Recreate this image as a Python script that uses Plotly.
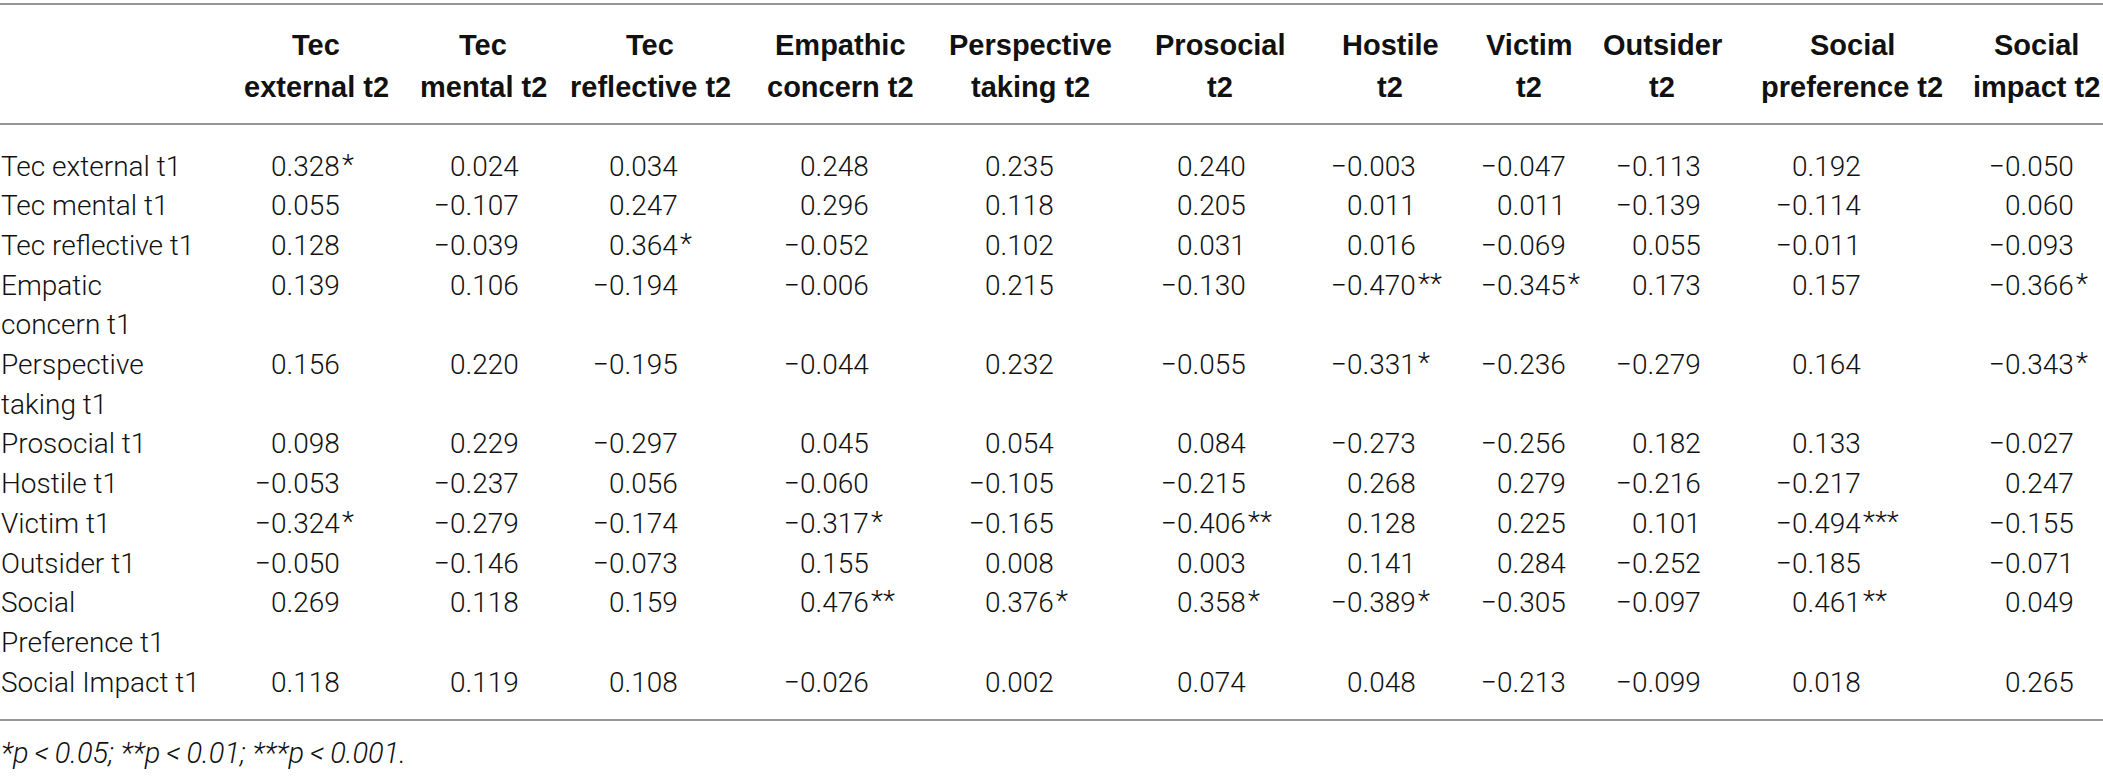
import plotly.graph_objects as go

# ---------------- data ----------------
col_labels = ["Tec\nexternal t2", "Tec\nmental t2", "Tec\nreflective t2", "Empathic\nconcern t2",
              "Perspective\ntaking t2", "Prosocial\nt2", "Hostile\nt2", "Victim\nt2", "Outsider\nt2",
              "Social\npreference t2", "Social\nimpact t2"]
row_labels = ["Tec external t1", "Tec mental t1", "Tec reflective t1", "Empatic\nconcern t1",
              "Perspective\ntaking t1", "Prosocial t1", "Hostile t1", "Victim t1", "Outsider t1",
              "Social\nPreference t1", "Social Impact t1"]
r_values = [
    [0.328, 0.024, 0.034, 0.248, 0.235, 0.240, -0.003, -0.047, -0.113, 0.192, -0.050],
    [0.055, -0.107, 0.247, 0.296, 0.118, 0.205, 0.011, 0.011, -0.139, -0.114, 0.060],
    [0.128, -0.039, 0.364, -0.052, 0.102, 0.031, 0.016, -0.069, 0.055, -0.011, -0.093],
    [0.139, 0.106, -0.194, -0.006, 0.215, -0.130, -0.470, -0.345, 0.173, 0.157, -0.366],
    [0.156, 0.220, -0.195, -0.044, 0.232, -0.055, -0.331, -0.236, -0.279, 0.164, -0.343],
    [0.098, 0.229, -0.297, 0.045, 0.054, 0.084, -0.273, -0.256, 0.182, 0.133, -0.027],
    [-0.053, -0.237, 0.056, -0.060, -0.105, -0.215, 0.268, 0.279, -0.216, -0.217, 0.247],
    [-0.324, -0.279, -0.174, -0.317, -0.165, -0.406, 0.128, 0.225, 0.101, -0.494, -0.155],
    [-0.050, -0.146, -0.073, 0.155, 0.008, 0.003, 0.141, 0.284, -0.252, -0.185, -0.071],
    [0.269, 0.118, 0.159, 0.476, 0.376, 0.358, -0.389, -0.305, -0.097, 0.461, 0.049],
    [0.118, 0.119, 0.108, -0.026, 0.002, 0.074, 0.048, -0.213, -0.099, 0.018, 0.265],
]
sig_stars = [
    [1, 0, 0, 0, 0, 0, 0, 0, 0, 0, 0],
    [0, 0, 0, 0, 0, 0, 0, 0, 0, 0, 0],
    [0, 0, 1, 0, 0, 0, 0, 0, 0, 0, 0],
    [0, 0, 0, 0, 0, 0, 2, 1, 0, 0, 1],
    [0, 0, 0, 0, 0, 0, 1, 0, 0, 0, 1],
    [0, 0, 0, 0, 0, 0, 0, 0, 0, 0, 0],
    [0, 0, 0, 0, 0, 0, 0, 0, 0, 0, 0],
    [1, 0, 0, 1, 0, 2, 0, 0, 0, 3, 0],
    [0, 0, 0, 0, 0, 0, 0, 0, 0, 0, 0],
    [0, 0, 0, 2, 1, 1, 1, 0, 0, 2, 0],
    [0, 0, 0, 0, 0, 0, 0, 0, 0, 0, 0],
]
footnote = "*p\u2009&lt;\u20090.05; **p\u2009&lt;\u20090.01; ***p\u2009&lt;\u20090.001."

# ---------------- layout constants ----------------
W, H = 2103, 778
col_num_right = [341, 520, 679, 870, 1055, 1247, 1417, 1567, 1702, 1862, 2075]
col_head_center = [316, 483, 650, 840, 1030, 1220, 1390, 1529, 1662, 1852, 2036]
label_x = 0
head_y = [45, 87]
first_row_y = 166
pitch = 39.7
top_rule, head_rule, bottom_rule = 4, 124, 720
foot_y = 753

FAM = "Roboto, 'Liberation Sans', sans-serif"
label_font = dict(family=FAM, size=28, color="#111111", weight=300)
num_font = dict(family=FAM, size=28, color="#111111", weight=300)
head_font = dict(family="'Liberation Sans Narrow', 'Liberation Sans', Arial, sans-serif", size=29,
                 color="#111111", weight="bold")


def fmt(v):
    s = f"{abs(v):.3f}"
    return ("\u2212" + s) if v < 0 else s


annotations = []

# headers
for j, lab in enumerate(col_labels):
    for k, line in enumerate(lab.split("\n")):
        annotations.append(dict(x=col_head_center[j], y=head_y[k], text=line, showarrow=False,
                                xanchor="center", yanchor="middle", font=head_font, borderpad=0))

# rows
slot = 0
for i, lab in enumerate(row_labels):
    lines = lab.split("\n")
    y0 = first_row_y + slot * pitch
    for k, line in enumerate(lines):
        annotations.append(dict(x=label_x, y=y0 + k * pitch, text=line, showarrow=False,
                                xanchor="left", yanchor="middle", font=label_font, borderpad=0))
    for j, v in enumerate(r_values[i]):
        annotations.append(dict(x=col_num_right[j], y=y0, text=fmt(v), showarrow=False,
                                xanchor="right", yanchor="middle", font=num_font, borderpad=0))
        if sig_stars[i][j]:
            annotations.append(dict(x=col_num_right[j], y=y0 - 2, text="*" * sig_stars[i][j],
                                    showarrow=False, xanchor="left", yanchor="middle",
                                    font=num_font, borderpad=0))
    slot += len(lines)

annotations.append(dict(x=label_x, y=foot_y, text="<i>" + footnote + "</i>", showarrow=False,
                        xanchor="left", yanchor="middle",
                        font=dict(family=FAM, size=29, color="#111111", weight=300),
                        borderpad=0))

shapes = [dict(type="line", xref="x", yref="y", x0=0, x1=W, y0=yy, y1=yy,
               line=dict(color="#959595", width=2)) for yy in (top_rule, head_rule, bottom_rule)]

fig = go.Figure(go.Scatter(x=[0, W], y=[0, H], mode="markers", marker=dict(opacity=0),
                           hoverinfo="skip", showlegend=False))
fig.update_layout(
    width=W, height=H, margin=dict(l=0, r=0, t=0, b=0),
    paper_bgcolor="white", plot_bgcolor="white",
    xaxis=dict(range=[0, W], visible=False, fixedrange=True),
    yaxis=dict(range=[H, 0], visible=False, fixedrange=True),
    annotations=annotations, shapes=shapes, showlegend=False,
)
fig.write_html("out.html", config={"displayModeBar": False},
               post_script="document.body.style.margin='0';document.body.style.overflow='hidden';")
